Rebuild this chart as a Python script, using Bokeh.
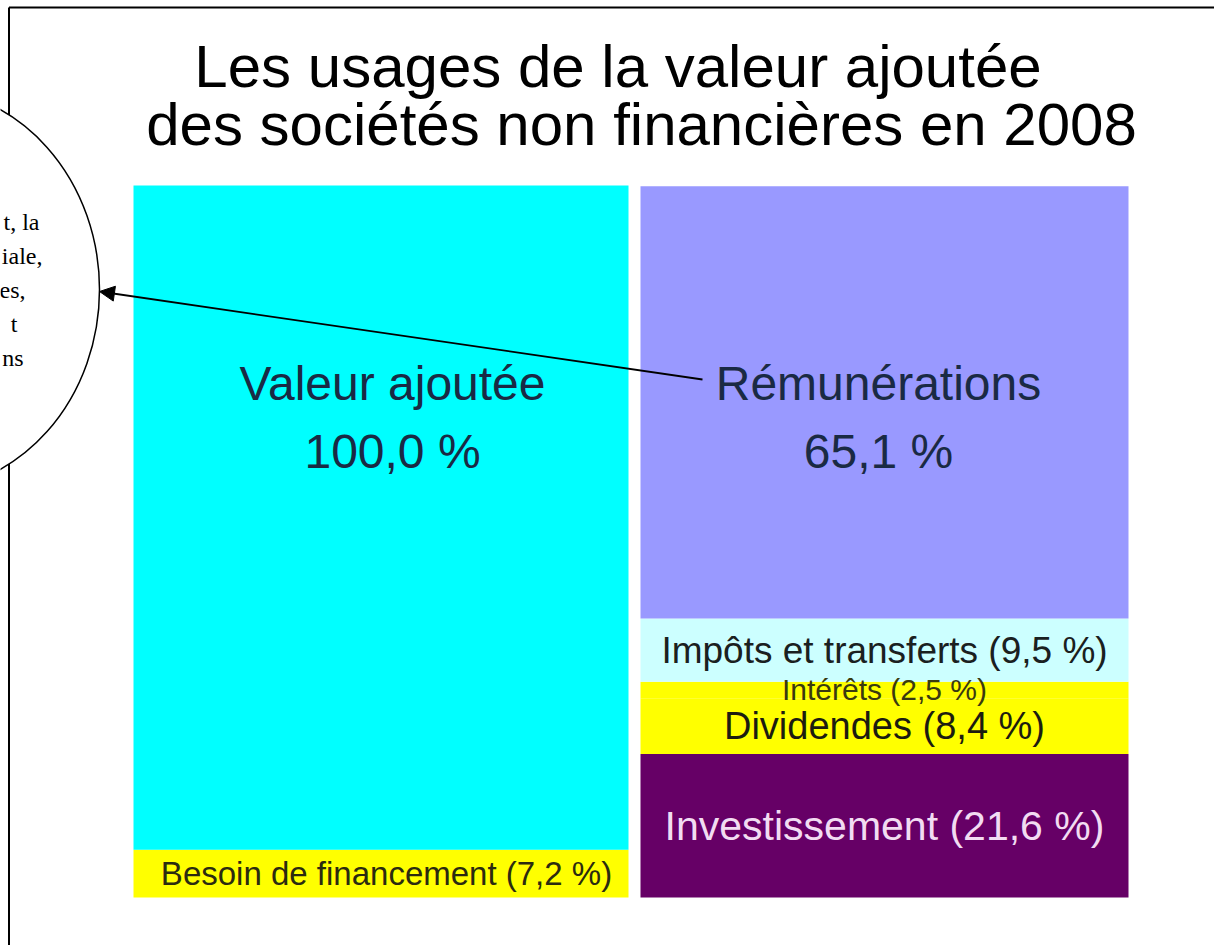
import numpy as np
from bokeh.plotting import figure
from bokeh.models import ColumnDataSource, Range1d, Arrow, NormalHead
from bokeh.core.properties import value
from bokeh.embed import file_html
from bokeh.resources import INLINE

# ---------------- data ----------------
title_lines = ["Les usages de la valeur ajoutée",
               "des sociétés non financières en 2008"]

left_items = ["Besoin de financement", "Valeur ajoutée"]
left_values = [7.2, 100.0]
left_colors = ["#ffff00", "#00ffff"]

right_items = ["Investissement", "Dividendes", "Intérêts",
               "Impôts et transferts", "Rémunérations"]
right_values = [21.6, 8.4, 2.5, 9.5, 65.1]
right_colors = ["#660066", "#ffff00", "#ffff00", "#ccffff", "#9999ff"]

callout_fragments = ["t, la", "iale,", "es,", "t", "ns"]


def fmt(v):
    return f"{v:.1f}".replace(".", ",") + " %"


# ---------------- geometry (page pixels) ----------------
W, H = 1214, 945
OFF = 0
BASE_PX = 897                 # page y of value 0
S = 712 / 107.2               # pixels per percentage point


def yd(py):
    return (BASE_PX - py) / S


def xd(px):
    return px - OFF


FONT = value("Liberation Sans")

p = figure(width=W, height=H, x_range=Range1d(0, W),
           y_range=Range1d(yd(OFF + H), yd(OFF)),
           output_backend="svg", toolbar_location=None,
           x_axis_location=None, y_axis_location=None, min_border=0)
p.grid.visible = False
p.outline_line_color = None
p.background_fill_color = "white"
p.border_fill_color = "white"

# frame lines
p.segment(x0=[xd(8.5), xd(8.5)], y0=[yd(7), yd(7)], x1=[xd(1240), xd(8.5)],
          y1=[yd(7), yd(980)], line_color="black", line_width=2)

# ---------------- bars ----------------
lv = np.array(left_values)
ltop = np.cumsum(lv)
lbot = ltop - lv
rv = np.array(right_values)
rtop = np.cumsum(rv)
rbot = rtop - rv

LX, LW = xd(380.5), 495
RX, RW = xd(884), 488

p.vbar(x=LX, width=LW, bottom=lbot, top=ltop, fill_color=left_colors,
       line_color=None)
p.vbar(x=RX, width=RW, bottom=rbot, top=rtop, fill_color=right_colors,
       line_color=None)

# ---------------- segment labels (at segment mid) ----------------
seg_text = [f"{left_items[0]} ({fmt(left_values[0])})"] + \
           [f"{right_items[i]} ({fmt(right_values[i])})" for i in range(4)]
seg_y = [(lbot[0] + ltop[0]) / 2] + [(rbot[i] + rtop[i]) / 2 for i in range(4)]
seg_x = [xd(386), RX, RX, RX, RX]
seg_size = ["33px", "41px", "38px", "30px", "37px"]
seg_color = ["#2b2b10", "#f2dcf2", "#1c1c10", "#3a3a10", "#1a2020"]
seg_src = ColumnDataSource(dict(x=seg_x, y=seg_y, t=seg_text, s=seg_size,
                                c=seg_color))
p.text(x="x", y="y", text="t", source=seg_src, text_font=FONT,
       text_font_size="s", text_color="c", text_align="center",
       text_baseline="middle")

# ---------------- big labels ----------------
big_x = [xd(392), xd(392), xd(878), xd(878)]
big_y = [yd(383), yd(451), yd(383), yd(451)]
big_t = [left_items[1], fmt(left_values[1]), right_items[4], fmt(right_values[4])]
big_src = ColumnDataSource(dict(x=big_x, y=big_y, t=big_t))
p.text(x="x", y="y", text="t", source=big_src, text_font=FONT,
       text_font_size="48px", text_color="#1a2a44", text_align="center",
       text_baseline="middle")

# ---------------- title ----------------
t_src = ColumnDataSource(dict(x=[xd(617.5), xd(641)], y=[yd(66), yd(124)],
                              t=title_lines))
p.text(x="x", y="y", text="t", source=t_src, text_font=FONT,
       text_font_size="60px", text_color="#000000", text_align="center",
       text_baseline="middle")

# ---------------- callout ellipse ----------------
p.ellipse(x=[xd(-80)], y=[yd(289)], width=358, height=402 / S,
          fill_color="white", line_color="black", line_width=1.5)
c_src = ColumnDataSource(dict(x=[xd(39), xd(42), xd(25), xd(17), xd(23)],
                              y=[yd(221), yd(255), yd(289), yd(323), yd(357)],
                              t=callout_fragments))
p.text(x="x", y="y", text="t", source=c_src,
       text_font=value("Liberation Serif"), text_font_size="24px",
       text_color="black", text_align="right", text_baseline="middle")

p.add_layout(Arrow(end=NormalHead(size=15, fill_color="black",
                                  line_color="black"),
                   x_start=xd(702), y_start=yd(379), x_end=xd(99), y_end=yd(291),
                   line_color="black", line_width=1.8))

open("out.html", "w").write(file_html(p, INLINE))
